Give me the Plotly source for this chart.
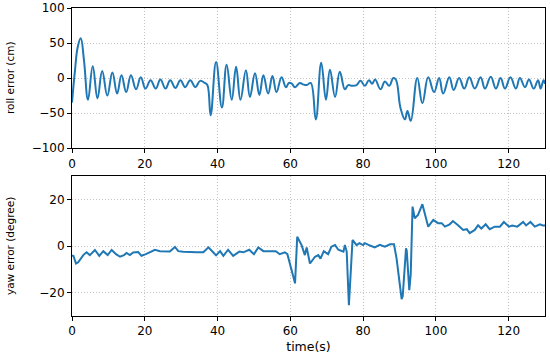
import plotly.graph_objects as go

# roll error (cm) vs time (s)
roll_t = [0, 0.8, 1.6, 2.4, 3.3, 4.4, 5.7, 7.0, 8.3, 9.7, 11.1, 12.4, 13.6, 14.9, 16.2, 17.6, 18.9,
          20.2, 21.6, 23.0, 24.3, 25.7, 27.0, 28.4, 29.8, 31.1, 32.5, 33.9, 35.2, 36.5, 37.2, 38.1,
          39.6, 41.2, 42.5, 43.9, 45.1, 46.3, 47.8, 48.9, 50.3, 51.5, 52.6, 53.9, 55.1, 56.2, 57.6,
          58.8, 59.6, 60.4, 61.3, 62.6, 63.5, 64.5, 65.6, 67.0, 68.5, 69.8, 70.9, 72.3, 73.6, 75.0,
          75.9, 77.0, 78.2, 79.3, 80.5, 81.6, 82.5, 83.3, 84.8, 86.0, 87.2, 88.3, 89.0, 90.3, 91.5,
          92.2, 93.1, 94.9, 96.3, 97.9, 99.5, 100.9, 102.0, 103.7, 104.9, 106.4, 107.8, 109.2, 110.7,
          112.3, 113.5, 115.1, 116.5, 117.8, 119.0, 120.5, 122.0, 123.1, 124.5, 125.6, 126.9, 128.1,
          128.8, 129.6, 130]
roll_v = [-35, 10, 45, 57, 25, -31, 17, -29, 10, -25, 8, -22, 4, -20, 4, -16, 1,
          -15, -3, -15, -2, -15, -3, -14, -3, -13, -3, -13, -4, -7, -10, -53,
          23, -42, 19, -31, 16, -31, 11, -27, 7, -24, 4, -22, 3, -20, 1,
          -13, -7, -8, -13, -7, -9, -10, -7, -59, 22, -31, 12, -27, 9, -16,
          -10, -11, -10, -4, -11, -3, -8, -2, -16, -5, -11, 0, -2, -43, -59,
          -47, -61, 0, -36, 1, -20, 0, -22, 1, -17, 0, -15, 1, -15,
          1, -15, 2, -15, 0, -15, 1, -15, 0, -13, -2, -15, -3,
          -15, -3, -8]

# yaw error (degree) vs time (s)
yaw_t = [0, 0.4, 1.1, 1.7, 3.1, 4.0, 4.9, 6.3, 7.5, 8.6, 9.8, 10.9, 12.1, 13.2, 14.3, 15.0, 15.9,
         16.8, 18.2, 19.1, 20.3, 21.6, 22.8, 24.2, 25.5, 26.9, 28.3, 29.2, 30.6, 32.4, 34.2, 36.1,
         37.5, 38.8, 39.6, 40.7, 41.6, 42.9, 44.3, 46.0, 47.1, 48.7, 50.0, 51.2, 52.6, 54.4, 56.0,
         57.1, 58.5, 59.2, 59.9, 61.3, 61.9, 62.6, 63.1, 64.0, 64.5, 65.4, 66.8, 67.7, 68.3, 69.2,
         70.4, 71.3, 72.3, 73.2, 74.6, 75.0, 75.5, 76.1, 76.6, 77.1, 78.2, 79.0, 80.0, 80.5, 81.9,
         83.2, 84.6, 86.0, 87.4, 88.5, 89.2, 89.9, 90.6, 90.9, 91.8, 92.0, 92.7, 93.1, 93.6, 94.2,
         95.1, 96.3, 97.0, 97.9, 99.3, 100.6, 101.6, 102.5, 103.8, 104.7, 106.1, 107.5, 108.5, 109.3,
         110.7, 111.6, 112.5, 113.7, 114.8, 116.2, 117.6, 118.7, 120.1, 121.0, 122.4, 124.0, 124.8,
         126.0, 127.2, 128.6, 129.4, 130]
yaw_v = [-4, -4.3, -7.5, -7, -3.9, -2.7, -3.9, -1.7, -4.2, -2.2, -3.9, -1.7, -3.5, -4.6, -3.9, -3, -3.9,
         -2.8, -2.6, -4.2, -3.5, -2.6, -1.6, -2.2, -2.2, -2.4, -0.4, -2.2, -2.5, -2.7, -2.7, -2.7,
         -0.6, -2.7, -4.0, -2.2, -4.2, -1.6, -4.2, -2.4, -2.7, -1.6, -3.5, -0.6, -2.2, -2.2, -2.2,
         -3.5, -2.7, -3.5, -7.9, -16, 4, 1.9, 0.4, -3.9, -0.6, -7.5, -4.6, -3.9, -5.4, -2.2,
         -3.5, -0.3, 0.4, -1.6, -2.4, 0.4, -2.4, -25.4, -8, 2.6, 0.4, 1.2, 0.4, 1.2, 0.2,
         -0.6, 0.5, -0.3, 0.7, 0.7, -5.3, -13.9, -22.8, -21.5, -1, -2, -18.9, -12, 16.9, 11.9,
         13.3, 17.9, 14, 8.3, 11.2, 9.8, 9.8, 8.3, 9.3, 10.7, 8.9, 6.9, 7.2, 5.5,
         6.9, 8.9, 7.5, 9.3, 7.2, 8.3, 8.3, 10.3, 8.3, 8.8, 8.3, 10.3, 8.8,
         10.3, 8.3, 9.3, 8.8, 8.8]

x_ticks = [0, 20, 40, 60, 80, 100, 120]
roll_ticks = [-100, -50, 0, 50, 100]
yaw_ticks = [-20, 0, 20]

LINE = "#1f77b4"
FONT = "DejaVu Sans"

fig = go.Figure()
fig.add_trace(go.Scatter(x=roll_t, y=roll_v, mode="lines", line=dict(color=LINE, width=2, shape="spline", smoothing=1.2),
                         xaxis="x", yaxis="y", showlegend=False))
fig.add_trace(go.Scatter(x=yaw_t, y=yaw_v, mode="lines", line=dict(color=LINE, width=2),
                         xaxis="x2", yaxis="y2", showlegend=False))

axis_common = dict(showline=True, linecolor="black", linewidth=1, mirror=True,
                   ticks="outside", ticklen=4, tickcolor="black", tickwidth=1,
                   showgrid=True, gridcolor="#c4c4c4", griddash="1px,2px", gridwidth=1,
                   zeroline=False, automargin=False,
                   tickfont=dict(family=FONT, size=12, color="black"))

fig.update_layout(
    width=550, height=364,
    margin=dict(l=72, r=5, t=8, b=48),
    paper_bgcolor="white", plot_bgcolor="white",
    font=dict(family=FONT, color="black"),
    xaxis=dict(domain=[0, 1], range=[0, 130], tickvals=x_ticks, anchor="y", **axis_common),
    yaxis=dict(domain=[0.545, 1.0], range=[-100, 100], tickvals=roll_ticks, anchor="x", **axis_common),
    xaxis2=dict(domain=[0, 1], range=[0, 130], tickvals=x_ticks, anchor="y2",
                title=dict(text="time(s)", font=dict(family=FONT, size=12.5), standoff=4), **axis_common),
    yaxis2=dict(domain=[0, 0.4545], range=[-30, 30], tickvals=yaw_ticks, anchor="x2", **axis_common),
    annotations=[
        dict(text="roll error (cm)", textangle=-90, xref="paper", yref="paper", x=0, y=0.7725,
             xanchor="center", yanchor="middle", xshift=-62, showarrow=False,
             font=dict(family=FONT, size=10.5, color="black")),
        dict(text="yaw error (degree)", textangle=-90, xref="paper", yref="paper", x=0, y=0.227,
             xanchor="center", yanchor="middle", xshift=-62, showarrow=False,
             font=dict(family=FONT, size=10.5, color="black")),
    ],
)

# remove the default page margin so the 550x364 figure fills the window exactly
fig.write_html("out.html", config={"displayModeBar": False},
               post_script="document.body.style.margin='0px';")
